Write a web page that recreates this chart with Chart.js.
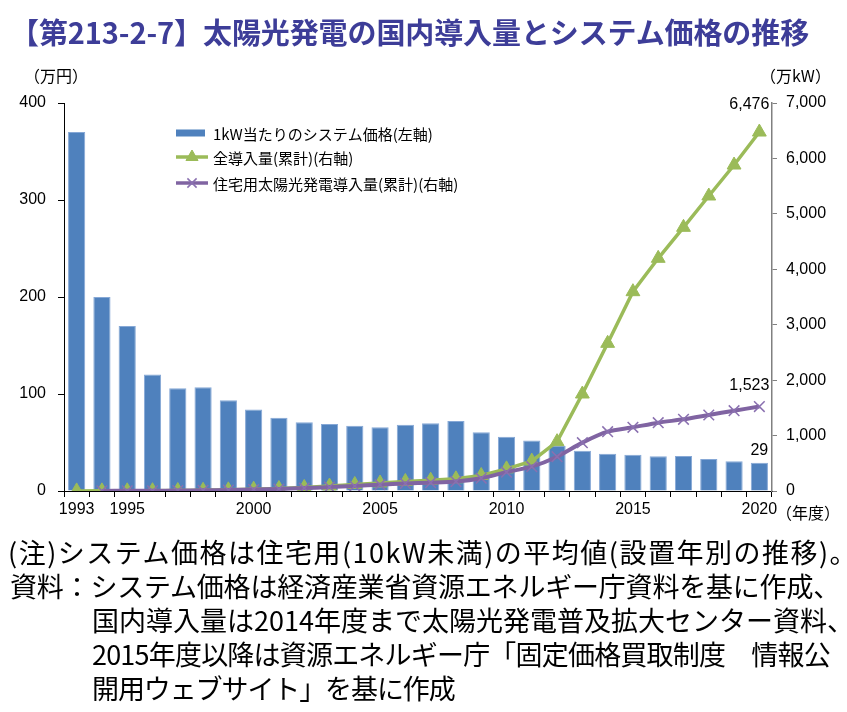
<!DOCTYPE html>
<html><head><meta charset="utf-8">
<script src="https://cdn.jsdelivr.net/npm/chart.js@4.4.1/dist/chart.umd.min.js"></script>
<style>
html,body{margin:0;padding:0;background:#fff;}
#wrap{position:relative;width:847px;height:712px;overflow:hidden;background:#fff;}
#c{position:absolute;left:0;top:0;}
.t{position:absolute;white-space:nowrap;font-family:"Noto Sans CJK JP","Noto Sans",sans-serif;color:#000;}
#title{left:10px;top:10px;font-size:29px;font-weight:bold;color:#3d3d98;letter-spacing:-0.1px;}
.u{font-size:16px;}
.n{font-size:27px;line-height:30px;left:8px;}
</style></head>
<body><div id="wrap">
<canvas id="c" width="847" height="712"></canvas>
<div class="t" id="title">【第213-2-7】太陽光発電の国内導入量とシステム価格の推移</div>
<div class="t u" style="left:24px;top:63px;">（万円）</div>
<div class="t u" style="left:760px;top:63px;">（万kW）</div>
<div class="t u" style="left:776px;top:500px;">（年度）</div>
<div class="t n" style="top:537px;letter-spacing:1.5px;">(注)システム価格は住宅用(10kW未満)の平均値(設置年別の推移)。</div>
<div class="t n" style="top:571px;left:10px;letter-spacing:-0.2px;">資料：システム価格は経済産業省資源エネルギー庁資料を基に作成、</div>
<div class="t n" style="top:605px;left:92px;">国内導入量は2014年度まで太陽光発電普及拡大センター資料、</div>
<div class="t n" style="top:639px;left:92px;letter-spacing:-0.8px;">2015年度以降は資源エネルギー庁「固定価格買取制度　情報公</div>
<div class="t n" style="top:673px;left:92px;letter-spacing:-1.1px;">開用ウェブサイト」を基に作成</div>
</div>
<script>
const years = ['1993','1994','1995','1996','1997','1998','1999','2000','2001','2002','2003','2004','2005','2006','2007','2008','2009','2010','2011','2012','2013','2014','2015','2016','2017','2018','2019','2020'];
const shownYears = ['1993','1995','2000','2005','2010','2015','2020'];
const systemPrice = [370,200,170,120,106,107,93.5,84,75.6,70.8,69.1,67.3,65.6,68.4,69.8,72.2,60.5,56,52,46.4,41.6,38.5,37.4,35.7,36.1,33,30.6,29];
const totalInstalled = [2,3,4,6,9,13,21,33,45,64,90,118,145,172,195,220,280,400,540,890,1750,2664,3596,4198,4757,5322,5881,6476];
const residential = [null,2,3,5,8,12,18,27,36,52,70,90,114,135,150,170,230,340,439,619,872,1070,1149,1233,1293,1371,1449,1523];
const leftTicks = [0,100,200,300,400];
const rightTicks = [0,1000,2000,3000,4000,5000,6000,7000];
const legendLabels = ['1kW当たりのシステム価格(左軸)','全導入量(累計)(右軸)','住宅用太陽光発電導入量(累計)(右軸)'];

const BLUE='#4f81bd', GREEN='#9bbb59', PURPLE='#8064a2';
const tickFont={family:'"Liberation Sans", Arial, sans-serif',size:16};

const legendPlugin={
  id:'customLegend',
  afterDatasetsDraw(chart){
    const ctx=chart.ctx;
    ctx.save();
    const x0=176, rows=[133,157,183];
    ctx.font='15px "Noto Sans CJK JP", sans-serif';
    ctx.textBaseline='middle';
    ctx.fillStyle=BLUE;ctx.fillRect(x0,rows[0]-3.5,29,7);
    const ds=chart.data.datasets;
    [1,2].forEach(k=>{
      const y=rows[k];
      ctx.strokeStyle=ds[k].borderColor;ctx.lineWidth=3.5;
      ctx.beginPath();ctx.moveTo(x0,y);ctx.lineTo(x0+32,y);ctx.stroke();
      ctx.fillStyle=ds[k].pointBackgroundColor||ds[k].borderColor;
      ctx.strokeStyle=ds[k].pointBorderColor||ds[k].borderColor;
      ctx.lineWidth=ds[k].pointBorderWidth;
      Chart.helpers.drawPoint(ctx,{pointStyle:ds[k].pointStyle,radius:ds[k].pointRadius-1,borderWidth:ds[k].pointBorderWidth,rotation:0},x0+16,y);
    });
    ctx.fillStyle='#000';
    legendLabels.forEach((t,i)=>ctx.fillText(t,213,rows[i]+1));
    ctx.restore();
  }
};
const labelPlugin={
  id:'endLabels',
  afterDatasetsDraw(chart){
    const ctx=chart.ctx;ctx.save();
    ctx.font='16px "Liberation Sans", Arial, sans-serif';ctx.fillStyle='#000';ctx.textBaseline='middle';
    const last=years.length-1;
    const b=chart.getDatasetMeta(0).data[last];
    const g=chart.getDatasetMeta(1).data[last];
    const p=chart.getDatasetMeta(2).data[last];
    ctx.textAlign='center';
    ctx.fillText(String(systemPrice[last]),b.x,b.y-12);
    ctx.textAlign='right';
    ctx.fillText(totalInstalled[last].toLocaleString('en-US'),g.x+10,g.y-27);
    ctx.fillText(residential[last].toLocaleString('en-US'),p.x+10,p.y-21);
    ctx.restore();
  }
};

new Chart(document.getElementById('c'),{
  data:{
    labels:years,
    datasets:[
      {type:'bar',label:legendLabels[0],data:systemPrice,yAxisID:'y',backgroundColor:BLUE,borderColor:'#86a8d6',borderWidth:1,categoryPercentage:1,barPercentage:0.68,order:3},
      {type:'line',label:legendLabels[1],data:totalInstalled,yAxisID:'y2',borderColor:GREEN,backgroundColor:GREEN,borderWidth:3.5,pointStyle:'triangle',pointRadius:8,pointBorderWidth:1,pointBackgroundColor:GREEN,pointBorderColor:GREEN,tension:0,order:2},
      {type:'line',label:legendLabels[2],data:residential,yAxisID:'y2',borderColor:PURPLE,backgroundColor:PURPLE,borderWidth:4,pointStyle:'crossRot',pointRadius:7.5,pointBorderWidth:1.5,pointBorderColor:'#8a70b0',tension:0.25,order:1,spanGaps:false}
    ]
  },
  options:{
    responsive:false,animation:false,
    layout:{padding:{top:103,bottom:191,left:0,right:0}},
    plugins:{legend:{display:false},tooltip:{enabled:false}},
    scales:{
      x:{offset:true,
        grid:{offset:true,drawOnChartArea:false,drawTicks:true,tickLength:6,color:'#000'},
        border:{color:'#000',width:1},
        ticks:{autoSkip:false,maxRotation:0,font:tickFont,color:'#000',padding:3,
          callback:function(v,i){return shownYears.includes(years[i])?years[i]:'';}},
        afterFit(s){s.height=30;}
      },
      y:{position:'left',min:0,max:400,
        grid:{drawOnChartArea:false,tickLength:6,color:'#000'},
        border:{color:'#000',width:1},
        ticks:{stepSize:100,font:tickFont,color:'#000',padding:12},
        afterBuildTicks(s){s.ticks=leftTicks.map(v=>({value:v}));},
        afterFit(s){s.width=64;}
      },
      y2:{position:'right',min:0,max:7000,
        grid:{drawOnChartArea:false,tickLength:5,color:'#808080'},
        border:{color:'#808080',width:1.5},
        ticks:{stepSize:1000,font:tickFont,color:'#000',padding:9,
          callback:v=>Number(v).toLocaleString('en-US')},
        afterBuildTicks(s){s.ticks=rightTicks.map(v=>({value:v}));},
        afterFit(s){s.width=75;}
      }
    }
  },
  plugins:[legendPlugin,labelPlugin]
});
</script>
</body></html>
